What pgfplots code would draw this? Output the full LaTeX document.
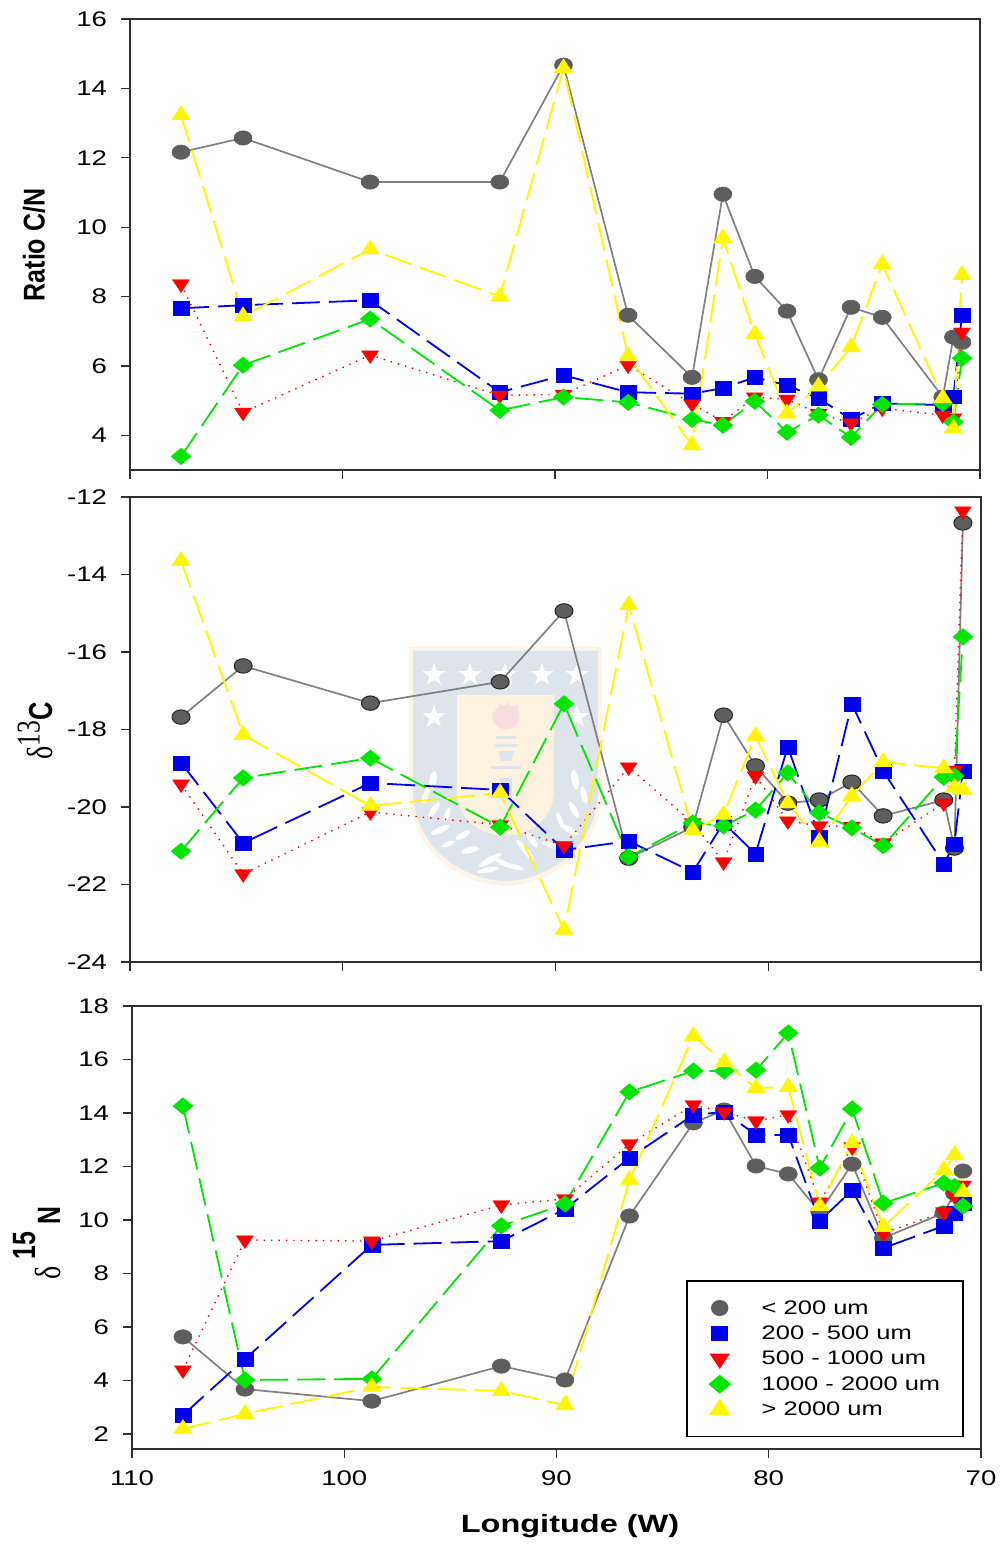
\documentclass[border=0pt]{standalone}
\usepackage{fontspec}
\usepackage{graphicx}
\usepackage{pgfplots}
\usepackage{pgfplotstable}
\pgfplotsset{compat=1.18}
\usetikzlibrary{shapes.geometric}
\setmainfont[FakeStretch=1.3]{Liberation Sans}
\newfontfamily\plainsf{Liberation Sans}
\newfontfamily\symf{Liberation Serif}
\definecolor{gline}{HTML}{808080}
\definecolor{gmark}{HTML}{5E5E5E}
\definecolor{cblue}{HTML}{0000F0}
\definecolor{cred}{HTML}{FF0000}
\definecolor{cgreen}{HTML}{00E600}
\definecolor{cyellow}{HTML}{FFF600}
\definecolor{shblue}{HTML}{DDE4EC}
\definecolor{shcream}{HTML}{FDF1DF}
\definecolor{shedge}{HTML}{FDF4E8}
\definecolor{shpink}{HTML}{F6DDE0}

\pgfplotstableread{
lon g b r gr y
107.6 12.16 7.66 8.36 3.39 13.23
104.68 12.57 7.75 4.66 6.02 7.43
98.7 11.3 7.89 6.31 7.35 9.36
92.6 11.3 5.24 5.15 4.72 8.0
89.6 14.67 5.73 5.18 5.1 14.58
86.56 7.46 5.24 6.02 4.95 6.28
83.55 5.67 5.2 4.9 4.46 3.71
82.1 10.95 5.36 4.4 4.29 9.68
80.6 8.58 5.67 5.1 4.98 6.91
79.08 7.58 5.44 5.04 4.09 4.63
77.6 5.6 5.07 4.63 4.58 5.41
76.07 7.69 4.46 4.35 3.94 6.54
74.6 7.4 4.92 4.78 4.89 8.93
71.75 5.1 4.87 4.58 4.92 5.07
71.25 6.83 5.12 4.5 4.38 4.2
70.85 6.68 7.46 6.97 6.22 8.62
}\tableA
\pgfplotstableread{
lon g b r gr y
107.6 -17.68 -18.86 -19.41 -21.14 -13.65
104.68 -16.36 -20.93 -21.73 -19.25 -18.14
98.7 -17.32 -19.38 -20.13 -18.74 -19.97
92.6 -16.77 -19.56 -20.46 -20.52 -19.64
89.6 -14.94 -21.11 -21.0 -17.34 -23.17
86.56 -21.32 -20.88 -18.97 -21.29 -14.79
83.55 -20.52 -21.68 -20.41 -20.41 -20.6
82.1 -17.63 -20.41 -21.42 -20.49 -20.2
80.6 -18.94 -21.21 -19.2 -20.08 -18.17
79.08 -19.9 -18.45 -20.36 -19.12 -19.9
77.6 -19.82 -20.77 -20.49 -20.15 -20.9
76.07 -19.36 -17.34 -20.5 -20.54 -19.72
74.6 -20.23 -19.07 -20.93 -21.0 -18.84
71.75 -19.82 -21.47 -19.9 -19.23 -19.0
71.25 -21.06 -20.95 -19.05 -19.2 -19.5
70.85 -12.67 -19.07 -12.36 -15.61 -19.56
}\tableB
\pgfplotstableread{
lon g b r gr y
107.6 5.63 2.71 4.39 14.26 2.19
104.68 3.68 4.8 9.25 4.02 2.75
98.7 3.23 9.07 9.21 4.06 3.76
92.6 4.54 9.21 10.56 9.78 3.61
89.6 4.02 10.41 10.79 10.6 3.08
86.56 10.15 12.32 12.84 14.79 11.5
83.55 13.63 13.93 14.3 15.57 16.88
82.1 14.11 14.04 14.04 15.57 15.9
80.6 12.02 13.18 13.7 15.6 14.93
79.08 11.72 13.18 13.93 16.99 14.97
77.6 10.3 9.96 10.67 11.94 10.52
76.07 12.09 11.12 12.73 14.15 12.88
74.6 9.33 8.95 9.51 10.63 9.74
71.75 10.26 9.78 10.3 11.38 11.87
71.25 11.0 10.26 10.9 11.25 12.43
70.85 11.83 10.62 11.3 10.52 11.05
}\tableC

\pgfplotsset{
  panel/.style={
    scale only axis,
    axis line style={line width=0.8pt,color=black!82},
    xmin=70,xmax=110,x dir=reverse,
    xtick={70,80,...,110},
    tick style={line width=0.6pt,color=black!82},
    major tick length=4.5pt,
    tick align=outside,
    xtick pos=bottom,ytick pos=left,
    /pgf/number format/assume math mode=true,
    tick label style={font=\fontsize{10.6}{12}\selectfont},
    yticklabel style={xshift=-3.5pt},
    clip=false,
  },
  sG/.style={color=gline,line width=0.85pt,solid,mark=*,mark size=3.6pt,
    mark options={solid,fill=gmark,draw=gmark,xscale=1.25,line width=0.3pt}},
  sGb/.style={color=gline,line width=0.85pt,solid,mark=*,mark size=3.6pt,
    mark options={solid,fill=gmark,draw=black!85,xscale=1.25,line width=0.5pt}},
  sB/.style={color=cblue,line width=0.9pt,dash pattern=on 14pt off 4.5pt,mark=square*,mark size=3.4pt,
    mark options={solid,fill=cblue,draw=cblue,xscale=1.15,line width=0.1pt}},
  sR/.style={color=cred,line width=0.7pt,dash pattern=on 0.7pt off 3pt,mark=triangle*,mark size=4.3pt,
    mark options={solid,fill=cred,draw=cred,rotate=180,xscale=1.15,line width=0.1pt}},
  sV/.style={color=cgreen,line width=0.9pt,dash pattern=on 14pt off 4.5pt,mark=diamond*,mark size=4.2pt,
    mark options={solid,fill=cgreen,draw=cgreen,xscale=1.6,line width=0.1pt}},
  sY/.style={color=cyellow,line width=0.95pt,dash pattern=on 14pt off 4.5pt,mark=triangle*,mark size=4.8pt,
    mark options={solid,fill=cyellow,draw=cyellow,xscale=1.12,line width=0.1pt}},
}

\begin{document}
\begin{tikzpicture}
\useasboundingbox (0,0) rectangle (500.5pt,772.5pt);
% pale shield behind the middle panel
\begin{scope}[x=0.5pt,y=-0.5pt,shift={(0pt,772.5pt)}]
  \fill[shedge] (409,647) -- (602,647) -- (602,790) .. controls (602,850) and (550,885) .. (506,886)
     .. controls (460,885) and (409,850) .. (409,790) -- cycle;
  \fill[shblue] (413,651) -- (598,651) -- (598,790) .. controls (598,845) and (550,880) .. (506,881)
     .. controls (460,880) and (413,845) .. (413,790) -- cycle;
  \fill[shcream] (457,695) -- (554,695) -- (554,790) .. controls (554,820) and (530,835) .. (505,836)
     .. controls (480,835) and (457,820) .. (457,790) -- cycle;
  \foreach \x/\y in {434/675,470/675,505/675,542/675,577/675,434/717,577/717}
    \node[star,star points=5,star point ratio=2.4,fill=white,inner sep=0pt,minimum size=12pt] at (\x,\y) {};
  \fill[shpink] (493,721) .. controls (490,712) and (497,712) .. (500,703) .. controls (503,708) and (505,706) .. (509,701)
     .. controls (508,708) and (513,708) .. (518,702) .. controls (516,712) and (521,712) .. (519,721)
     .. controls (512,732) and (500,732) .. (493,721) -- cycle;
  \fill[shblue] (496,736) rectangle (516,739);
  \fill[shblue] (495,744) rectangle (517,747);
  \fill[shblue] (498,751) -- (514,751) -- (511,761) -- (501,761) -- cycle;
  \fill[shblue] (491,766) rectangle (521,769);
  \fill[shblue] (500,778) rectangle (512,800);
  \fill[shblue] (500,778) arc (180:0:6);
  \foreach \x/\y/\a/\l/\w in {433/780/80/9/3.5, 426/795/70/9/3, 434/810/55/9/3, 447/815/70/8/2.5, 440/830/25/10/3,
      463/835/30/8/3, 448/844/20/7/2.5, 470/850/15/9/3, 490/860/30/13/3, 503/863/-25/11/2.5, 488/870/10/11/2.5,
      575/780/100/10/3.5, 584/795/105/9/3, 574/810/120/9/3, 560/820/110/8/2.5, 570/830/150/9/3, 532/840/125/9/3,
      550/845/160/8/2.5, 525/850/130/13/3, 515/867/165/9/2.5}
    \fill[white,rotate around={\a:(\x,\y)}] (\x,\y) ellipse[x radius=\l,y radius=\w];
\end{scope}

% top panel
\begin{axis}[panel,at={(65pt,537.5pt)},anchor=south west,width=425pt,height=225.5pt,
   ymin=3,ymax=16,ytick={4,6,...,16},xticklabels={}]
 \addplot[sG] table[x=lon,y=g]{\tableA};
 \addplot[sB] table[x=lon,y=b]{\tableA};
 \addplot[sR] table[x=lon,y=r]{\tableA};
 \addplot[sV] table[x=lon,y=gr]{\tableA};
 \addplot[sY] table[x=lon,y=y]{\tableA};
\end{axis}

% middle panel
\begin{axis}[panel,at={(65pt,291.5pt)},anchor=south west,width=425.5pt,height=232.5pt,
   ymin=-24,ymax=-12,ytick={-24,-22,...,-12},xticklabels={}]
 \addplot[sGb] table[x=lon,y=g]{\tableB};
 \addplot[sB] table[x=lon,y=b]{\tableB};
 \addplot[sR] table[x=lon,y=r]{\tableB};
 \addplot[sV] table[x=lon,y=gr]{\tableB};
 \addplot[sY] table[x=lon,y=y]{\tableB};
\end{axis}

% bottom panel
\begin{axis}[panel,at={(66pt,48pt)},anchor=south west,width=424.5pt,height=221.5pt,
   ymin=1.44,ymax=18,ytick={2,4,...,18},xtick={70,80,...,110},
   xticklabel style={yshift=-3pt},
   legend style={at={(0.98,0.381)},anchor=north east,draw=black,line width=0.8pt,
     font=\fontsize{9.8}{12}\selectfont,cells={anchor=west},
     inner xsep=9.5pt,inner ysep=7pt,row sep=-0.3pt,
     nodes={inner ysep=1.5pt,text height=8pt,text depth=2pt}},
   legend image code/.code={\path[draw=none,fill=none] (0pt,0pt) -- (26pt,0pt); \path[#1,draw=none,fill=none] plot coordinates {(7pt,0pt)};}]
 \addlegendimage{only marks,mark=*,mark size=3.6pt,mark options={solid,fill=gmark,draw=gmark,xscale=1.1}}
 \addlegendentry{< 200 um}
 \addlegendimage{only marks,mark=square*,mark size=3.4pt,mark options={solid,fill=cblue,draw=cblue,xscale=1.15}}
 \addlegendentry{200 - 500 um}
 \addlegendimage{only marks,mark=triangle*,mark size=4.3pt,mark options={solid,fill=cred,draw=cred,rotate=180,xscale=1.15}}
 \addlegendentry{500 - 1000 um}
 \addlegendimage{only marks,mark=diamond*,mark size=4.2pt,mark options={solid,fill=cgreen,draw=cgreen,xscale=1.6}}
 \addlegendentry{1000 - 2000 um}
 \addlegendimage{only marks,mark=triangle*,mark size=4.8pt,mark options={solid,fill=cyellow,draw=cyellow,xscale=1.12}}
 \addlegendentry{> 2000 um}
 \addplot[sG,forget plot] table[x=lon,y=g]{\tableC};
 \addplot[sB,forget plot] table[x=lon,y=b]{\tableC};
 \addplot[sR,forget plot] table[x=lon,y=r]{\tableC};
 \addplot[sV,forget plot] table[x=lon,y=gr]{\tableC};
 \addplot[sY,forget plot] table[x=lon,y=y]{\tableC};
\end{axis}

% axis titles
\begin{scope}[x=0.5pt,y=-0.5pt,shift={(0pt,772.5pt)}]
  \node[rotate=90,inner sep=0pt] at (34,245) {\scalebox{1}[1.2]{\plainsf\bfseries\fontsize{12.5}{14}\selectfont Ratio C/N}};
  \node[rotate=90,inner sep=0pt,anchor=base] at (52,731) {\scalebox{1}[1.3]{\fontsize{12.8}{14}\selectfont{\symf\fontsize{14}{14}\selectfont δ\fontsize{12.8}{14}\selectfont\raisebox{4.8pt}{13}}\plainsf\bfseries C}};
  \node[rotate=90,inner sep=0pt,anchor=base] at (60,1243) {\scalebox{1}[1.3]{\fontsize{12.4}{14}\selectfont{\symf\fontsize{14}{14}\selectfont δ}\kern3.5pt\raisebox{9.6pt}{\plainsf\bfseries 15}\kern4pt\plainsf\bfseries N}};
  \node[inner sep=0pt] at (570,1526) {\bfseries\fontsize{12.5}{14}\selectfont Longitude (W)};
\end{scope}
\end{tikzpicture}
\end{document}
